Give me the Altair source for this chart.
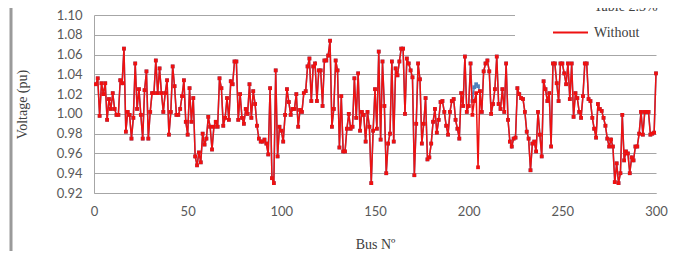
import altair as alt
import pandas as pd

# Bus voltages (pu), bus 1..300
seg_a = [1.030, 1.036, 0.998, 1.031, 1.020, 1.031, 0.994, 1.015, 1.005, 1.021,
         1.005, 0.999, 0.999, 1.034, 1.031, 1.066, 0.982, 1.002, 0.999, 0.975,
         0.996, 1.051, 1.005, 1.025, 0.999, 0.975, 1.024, 1.043, 0.975, 1.002,
         1.021, 1.021, 1.054, 1.021, 1.046]
seg_b = [1.021, 1.002, 1.021, 1.034, 0.979, 1.002, 1.048, 1.028, 0.999, 0.999,
         1.005, 1.018, 1.034, 0.992, 0.979, 1.026, 0.992, 1.016, 0.957, 0.948,
         0.961, 0.951, 0.980, 0.969, 0.975, 0.997, 0.987, 0.964, 0.987, 0.992,
         0.987, 1.036, 1.026, 0.988, 0.996, 1.016]
seg_c = [0.994, 1.033, 1.030, 1.053, 1.053, 0.994, 1.020, 0.996, 0.990, 1.005,
         1.000, 1.030, 0.996, 1.023, 1.010, 0.988, 0.975, 0.972, 0.972, 0.974,
         0.970, 0.959, 1.026, 0.935, 0.930, 1.044, 0.957, 0.987, 0.983, 0.972,
         0.999, 1.025, 1.012, 0.999, 1.005, 1.005, 1.020, 0.987]
seg_d = [1.004, 1.002, 1.021, 1.023, 1.048, 1.056, 1.013, 1.048, 1.051, 1.013,
         1.044, 1.044, 1.008, 1.054, 1.054, 1.059, 1.074, 0.987, 1.005, 1.054,
         1.044, 0.966, 1.018, 0.962, 0.962, 0.985, 1.000, 0.985, 0.987, 1.036,
         0.996, 1.041, 0.983, 1.002, 0.999, 0.972, 1.002]
seg_e = [0.987, 0.930, 0.983, 1.025, 0.985, 1.063, 0.974, 1.053, 1.008, 0.940,
         0.970, 0.980, 1.053, 0.972, 1.046, 1.039, 1.053, 1.066, 1.066, 1.000,
         1.056, 1.051, 1.044, 1.037, 0.938, 0.990, 1.051, 1.035, 0.970, 0.990,
         1.016, 0.954, 0.956, 0.970, 0.992, 1.005, 0.981, 0.994, 1.012]
seg_f = [1.013, 1.002, 0.988, 0.979, 1.002, 1.013, 1.015, 0.994, 0.985, 0.975,
         1.021, 1.008, 1.058, 1.002, 1.008, 1.051, 0.999, 1.013, 1.021, 0.946,
         1.023, 1.002, 1.043, 1.051, 1.054, 1.043, 1.000, 1.010, 1.025, 1.058,
         1.010, 1.005, 1.025, 1.002, 1.051, 0.994]
seg_g = [0.972, 0.967, 0.975, 0.976, 1.026, 1.020, 1.016, 1.015, 1.002, 0.982,
         0.975, 0.943, 0.970, 0.972, 0.962, 1.002, 0.979, 0.957, 1.033, 1.025,
         1.013, 1.021, 0.967, 1.051, 1.051, 1.031, 1.013, 1.051, 1.051, 1.041,
         1.030, 1.051, 1.015, 1.051, 0.997, 1.021]
seg_h = [1.016, 1.002, 0.996, 1.018, 1.051, 1.051, 1.015, 1.013, 0.996, 0.985,
         0.976, 1.010, 1.005, 1.003, 0.996, 0.988, 0.975, 0.967, 0.974, 0.967,
         0.931, 0.950, 0.930, 0.940, 0.999, 0.953, 0.962, 0.960, 0.940, 0.956,
         0.953, 0.967, 0.967, 0.980, 1.002, 0.979, 1.002, 1.002, 1.002, 0.979,
         0.980, 0.981, 1.041]

without = seg_a + seg_b + seg_c + seg_d + seg_e + seg_f + seg_g + seg_h
assert len(without) == 300, len(without)
buses = list(range(1, 301))

# Second series: identical except where it shows from under the red line
blue_bus = [202, 203, 204, 205]
blue_val = [1.013, 1.027, 1.030, 1.028]
with_case = list(without)
for b, v in zip(blue_bus, blue_val):
    with_case[b - 1] = v

series_names = ["Table 2.3%", "Without"]
series_colors = ["#4f81bd", "#ee1111"]
x_ticks = [0, 50, 100, 150, 200, 250, 300]
y_ticks = [0.92, 0.94, 0.96, 0.98, 1.00, 1.02, 1.04, 1.06, 1.08, 1.10]

df_red = pd.DataFrame({"bus": buses, "v": without, "series": series_names[1]})
df_blue = pd.DataFrame({"bus": buses, "v": with_case, "series": series_names[0]})

axis_style = dict(labelFont="Lato", labelFontSize=13, labelColor="#595959",
                  titleFont="Liberation Serif", titleFontSize=14, titleFontWeight="normal",
                  titleColor="#404040", ticks=False, domainColor="#a6a6a6",
                  gridColor="#a6a6a6", gridWidth=1)

x_enc = alt.X("bus:Q", scale=alt.Scale(domain=[0, 300], nice=False),
              axis=alt.Axis(values=x_ticks, title="Bus Nº", grid=False, labelFlush=False,
                            labelPadding=12, titlePadding=19, **axis_style))
y_enc = alt.Y("v:Q", scale=alt.Scale(domain=[0.92, 1.10], nice=False, zero=False),
              axis=alt.Axis(values=y_ticks, format=".2f", title="Voltage (pu)",
                            grid=True, labelPadding=12, titlePadding=27, **axis_style))
color_enc = alt.Color("series:N",
                      scale=alt.Scale(domain=series_names, range=series_colors),
                      legend=alt.Legend(orient="none", legendX=421, legendY=-27, title=None,
                                        symbolType="stroke", symbolSize=1225,
                                        symbolStrokeWidth=2, labelFont="Liberation Serif",
                                        labelFontSize=14, labelColor="#404040",
                                        fillColor="white", padding=0, symbolOffset=37,
                                        rowPadding=0, labelOffset=5))

pt = alt.OverlayMarkDef(filled=True, size=14, shape="square")
blue_layer = alt.Chart(df_blue).mark_line(strokeWidth=1.5, point=pt).encode(
    x=x_enc, y=y_enc, color=color_enc)
red_layer = alt.Chart(df_red).mark_line(strokeWidth=1.5, point=pt).encode(
    x=x_enc, y=y_enc, color=color_enc)

frame = alt.Chart(pd.DataFrame({"a": [0]})).mark_rule(color="#9a9a9a", strokeWidth=3).encode(
    x=alt.value(-83), y=alt.value(-15), y2=alt.value(245))

chart = alt.layer(frame, blue_layer, red_layer).properties(
    width=562, height=178,
    background="white",
    autosize=alt.AutoSizeParams(type="none"),
    padding={"left": 86, "top": 7, "right": 12, "bottom": 58},
).configure_view(strokeWidth=0)

chart.save("out.html", embed_options={"renderer": "svg", "actions": False})
